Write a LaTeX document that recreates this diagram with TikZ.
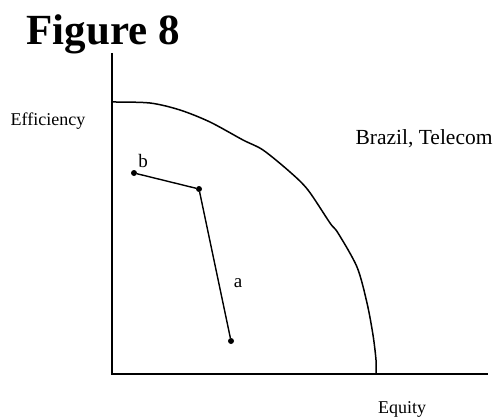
\documentclass[tikz,border=0pt]{standalone}
\usepackage{fontspec}
\setmainfont{Liberation Serif}
\begin{document}
\begin{tikzpicture}[x=1pt,y=-1pt,
  axis/.style={line width=2pt},
  seg/.style={line width=1.4pt},
  pt/.style={circle,fill=black,inner sep=0pt,minimum size=6pt},
  lbl/.style={inner sep=0pt,font=\fontsize{18}{20}\selectfont}]
\useasboundingbox (0,0) rectangle (494,417);
\node[anchor=base,inner sep=0pt,font=\fontsize{43}{46}\selectfont\bfseries] (title) at (103,45) {Figure 8};
\coordinate (o) at (112,374);
\coordinate (ytop) at (112,53);
\coordinate (xend) at (488,374);
\draw[axis] (ytop) -- (o) -- (xend);
\draw[line width=1.5pt] plot[smooth,tension=0.5] coordinates {(112,102) (150,103) (180,110) (210,122) (243,140) (263,150) (290,172) (308,190) (330,223) (338,233) (357,267) (367,303) (373,335) (376,360) (376,374)};
\node[pt] (b) at (134,173) {};
\node[pt] (c) at (199,189) {};
\node[pt] (a) at (231,341) {};
\draw[seg] (b) -- (c) -- (a);
\node[lbl,font=\fontsize{19}{21}\selectfont] (lb) at (143,161) {b};
\node[lbl,font=\fontsize{19}{21}\selectfont] (la) at (238,283) {a};
\node[lbl] (eff) at (48,121) {Efficiency};
\node[lbl,font=\fontsize{21.5}{23}\selectfont] (bt) at (424,139) {Brazil, Telecom};
\node[lbl] (eq) at (402,409) {Equity};
\end{tikzpicture}
\end{document}
